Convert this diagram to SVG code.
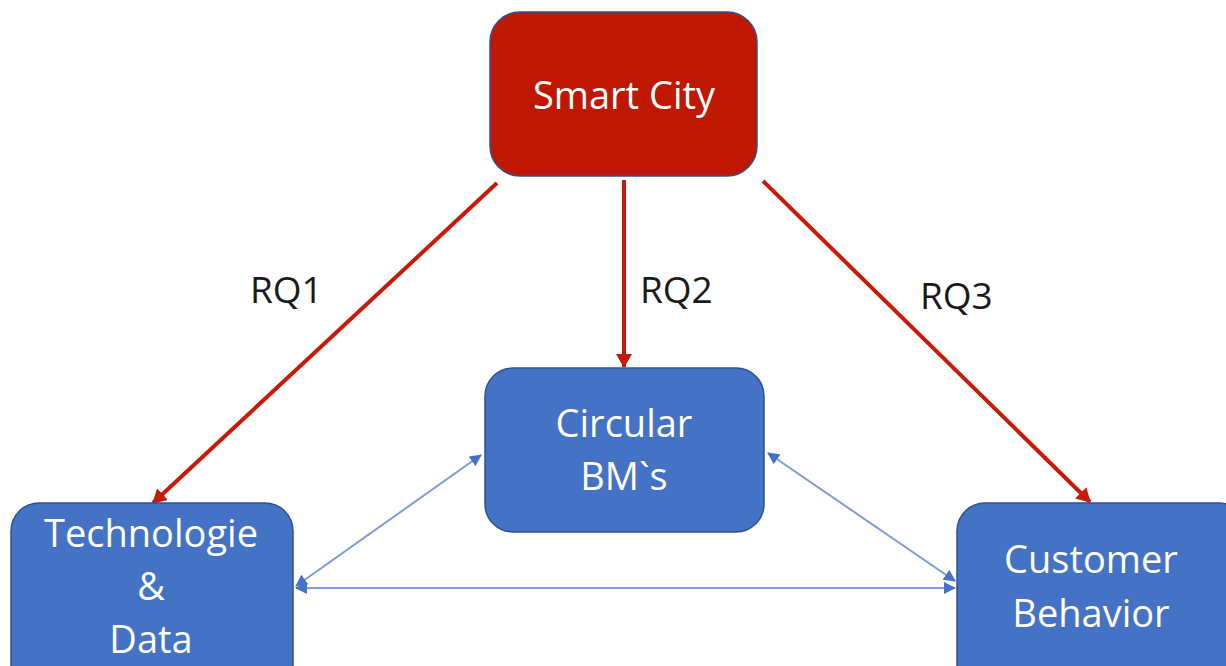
<svg xmlns="http://www.w3.org/2000/svg" width="1226" height="666" viewBox="0 0 1226 666">
  <style>
    .box { stroke: #2F528F; stroke-width: 1.5; }
    .red { fill: #C01800; }
    .blue { fill: #4472C4; }
    .label { font-family: "Open Sans", "Noto Sans", sans-serif; font-size: 38px; fill: #FFFFFF; text-anchor: middle; }
    .rq { font-family: "Open Sans", "Noto Sans", sans-serif; font-size: 37px; fill: #1A1A1A; }
    .rq-line { stroke: #C81A0A; stroke-width: 4; fill: none; }
    .link { stroke: #7C9CDB; stroke-width: 2; fill: none; }
  </style>
  <defs>
    <marker id="redHead" viewBox="0 0 14 16" refX="13" refY="8" markerWidth="14" markerHeight="16" markerUnits="userSpaceOnUse" orient="auto">
      <path d="M0,0 L14,8 L0,16 z" fill="#C81A0A"/>
    </marker>
    <marker id="blueHead" viewBox="0 0 12 12" refX="11" refY="6" markerWidth="12" markerHeight="12" markerUnits="userSpaceOnUse" orient="auto-start-reverse">
      <path d="M0,0 L12,6 L0,12 z" fill="#4472C4"/>
    </marker>
  </defs>

  <!-- connectors -->
  <g id="connectors">
    <line class="rq-line" x1="497" y1="183" x2="153" y2="503" marker-end="url(#redHead)"/>
    <line class="rq-line" x1="624" y1="180" x2="624" y2="367" marker-end="url(#redHead)"/>
    <line class="rq-line" x1="763" y1="181" x2="1090" y2="502" marker-end="url(#redHead)"/>
    <line class="link" x1="296" y1="586" x2="481" y2="455" marker-start="url(#blueHead)" marker-end="url(#blueHead)"/>
    <line class="link" x1="768" y1="453" x2="955" y2="581" marker-start="url(#blueHead)" marker-end="url(#blueHead)"/>
    <line class="link" x1="296" y1="588" x2="955" y2="588" marker-start="url(#blueHead)" marker-end="url(#blueHead)"/>
    <text class="rq" x="250" y="303">RQ1</text>
    <text class="rq" x="640" y="303">RQ2</text>
    <text class="rq" x="920" y="309">RQ3</text>
  </g>

  <g id="smart-city">
    <rect class="box red" x="490" y="12" width="267" height="164" rx="30"/>
    <text class="label" x="624" y="109">Smart City</text>
  </g>

  <g id="circular-bms">
    <rect class="box blue" x="485" y="368" width="279" height="164" rx="28"/>
    <text class="label" x="624" y="437">Circular</text>
    <text class="label" x="624" y="490">BM`s</text>
  </g>

  <g id="technologie-data">
    <rect class="box blue" x="11" y="503" width="282" height="190" rx="28"/>
    <text class="label" x="151" y="547">Technologie</text>
    <text class="label" x="151" y="600">&amp;</text>
    <text class="label" x="151" y="653">Data</text>
  </g>

  <g id="customer-behavior">
    <rect class="box blue" x="957" y="503" width="290" height="190" rx="28"/>
    <text class="label" x="1091" y="573">Customer</text>
    <text class="label" x="1091" y="627">Behavior</text>
  </g>
</svg>
